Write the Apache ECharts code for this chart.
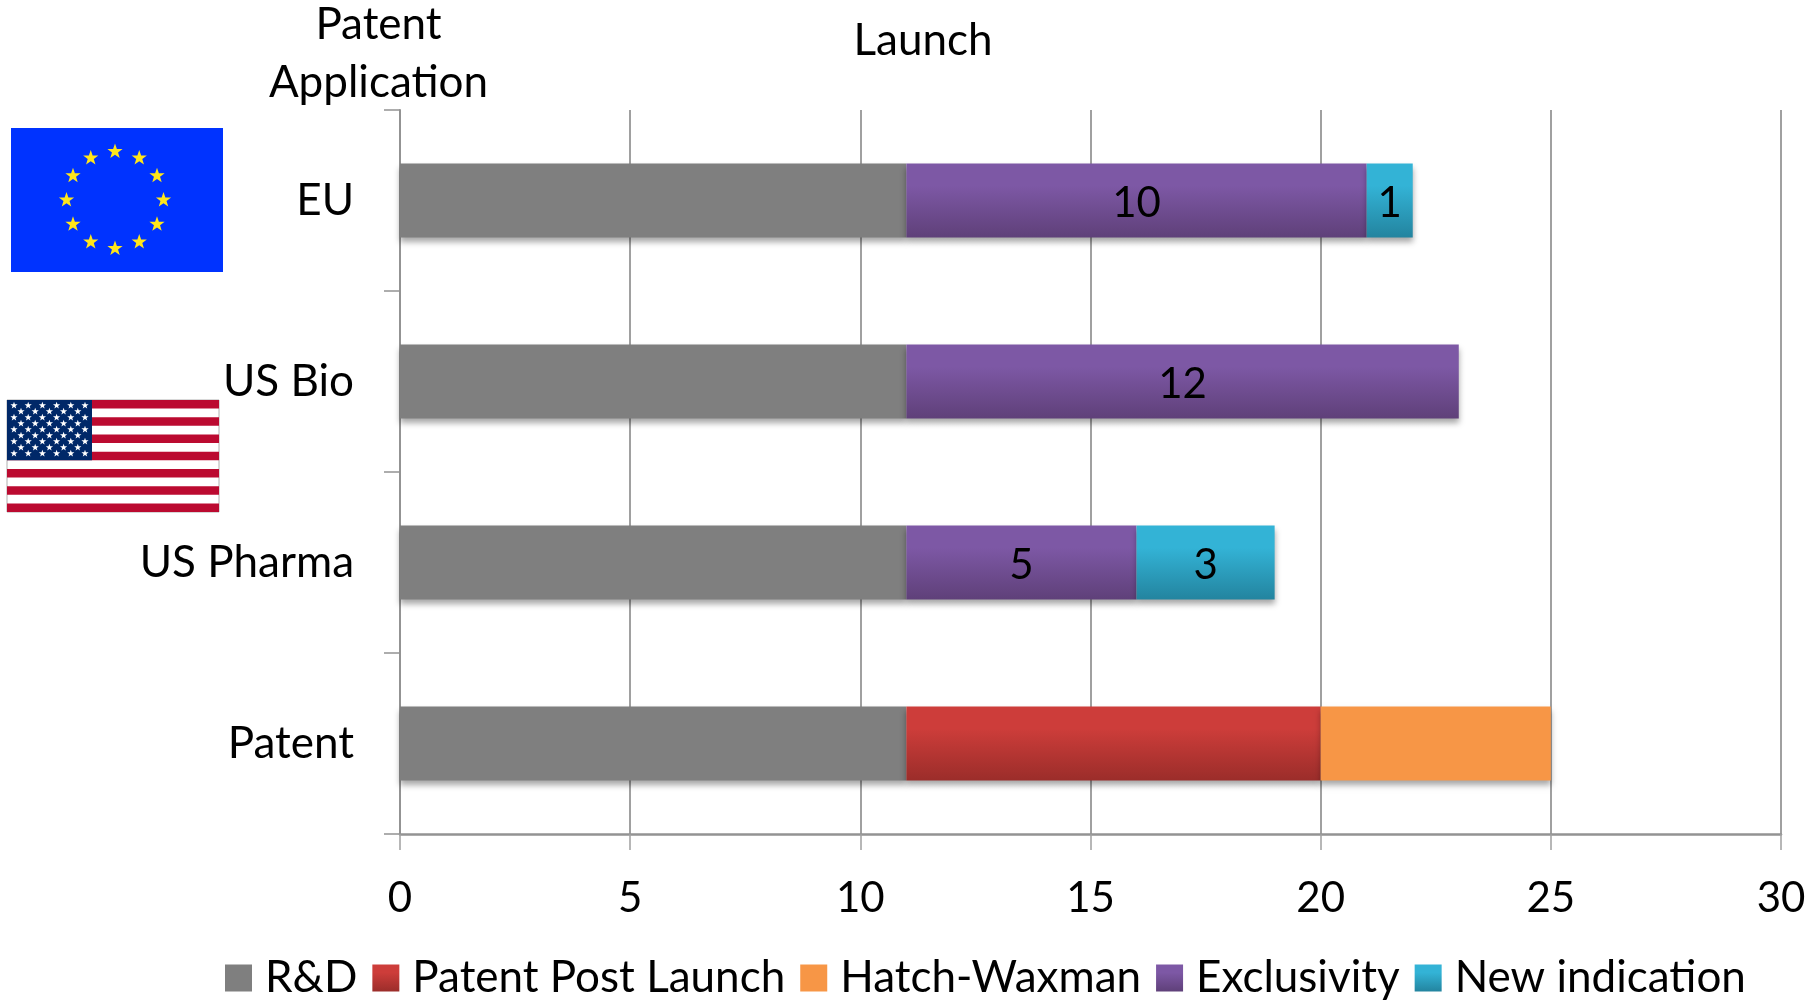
<!DOCTYPE html>
<html><head><meta charset="utf-8">
<style>html,body{margin:0;padding:0;background:#fff}#c{width:1812px;height:1000px}</style>
<script src="https://cdn.jsdelivr.net/npm/echarts@6/dist/echarts.min.js"></script>
</head><body><div id="c"></div>
<script>
const categories = ['Patent', 'US Pharma', 'US Bio', 'EU'];
const seriesNames = ['R&D', 'Patent Post Launch', 'Hatch-Waxman', 'Exclusivity', 'New indication'];
const rd = [11, 11, 11, 11];
const patentPost = [9, null, null, null];
const hatchWaxman = [5, null, null, null];
const exclusivity = [null, 5, 12, 10];
const newIndication = [null, 3, null, 1];
const xTicks = [0, 5, 10, 15, 20, 25, 30];

const FONT = 'Lato';
const grad = (a, b) => new echarts.graphic.LinearGradient(0, 0, 0, 1, [
  {offset: 0, color: a}, {offset: .3, color: a}, {offset: 1, color: b}]);
const seriesDefs = [
  [rd, '#7f7f7f', false],
  [patentPost, grad('#cd3d3a', '#9b2d2a'), false],
  [hatchWaxman, '#f79646', false],
  [exclusivity, grad('#7d58a5', '#5f4079'), true],
  [newIndication, grad('#33b3d6', '#23849f'), true]
];
function star(cx, cy, r, fill) {
  const pts = [];
  for (let i = 0; i < 10; i++) {
    const a = -Math.PI / 2 + i * Math.PI / 5, q = i % 2 ? r * .4 : r;
    pts.push([cx + q * Math.cos(a), cy + q * Math.sin(a)]);
  }
  return {type: 'polygon', shape: {points: pts}, style: {fill}, silent: true};
}
const rect = (x, y, width, height, fill) => ({type: 'rect', shape: {x, y, width, height}, style: {fill}, silent: true});
const flagParts = [rect(11, 128, 212, 144, '#0033ff')];
for (let i = 0; i < 12; i++) {
  const a = i * Math.PI / 6;
  flagParts.push(star(115 + 48.5 * Math.sin(a), 200 - 48.5 * Math.cos(a), 8, '#ffe61a'));
}
const usX = 7, usY = 400, usW = 212, usH = 112, sh = usH / 13;
flagParts.push({type: 'rect', shape: {x: usX, y: usY, width: usW, height: usH}, style: {fill: '#ffffff', stroke: '#b0b0b0', lineWidth: 1}, silent: true});
for (let i = 0; i < 13; i += 2) flagParts.push(rect(usX, usY + i * sh, usW, sh, '#bb0a30'));
flagParts.push(rect(usX, usY, 85, sh * 7, '#002868'));
for (let r = 0; r < 9; r++) {
  const n = r % 2 ? 5 : 6;
  for (let c = 0; c < n; c++) {
    flagParts.push(star(usX + 7 + (r % 2 ? 7 : 0) + c * 14.2, usY + 5.5 + r * 6, 3.8, '#ffffff'));
  }
}
const chart = echarts.init(document.getElementById('c'));
chart.setOption({
  animation: false,
  backgroundColor: '#fff',
  textStyle: {fontFamily: FONT},
  title: [
    {text: 'Patent\nApplication', left: 373.5, top: -9, textAlign: 'center',
     textStyle: {fontFamily: FONT, fontSize: 44, fontWeight: 'normal', color: '#000', lineHeight: 58}},
    {text: 'Launch', left: 918, top: 7, textAlign: 'center',
     textStyle: {fontFamily: FONT, fontSize: 44, fontWeight: 'normal', color: '#000', lineHeight: 58}}
  ],
  grid: {left: 400, right: 31, top: 110, bottom: 166},
  xAxis: {
    type: 'value', min: 0, max: 30, interval: 5,
    axisLine: {show: true, lineStyle: {color: '#939393', width: 2.5}},
    axisTick: {show: true, length: 16, lineStyle: {color: '#a0a0a0', width: 1.5}},
    splitLine: {show: true, lineStyle: {color: '#a0a0a0', width: 2}},
    axisLabel: {color: '#000', fontFamily: FONT, fontSize: 42, margin: 43,
      formatter: v => xTicks.includes(v) ? String(v) : ''}
  },
  yAxis: {
    type: 'category', data: categories,
    axisLine: {show: true, lineStyle: {color: '#939393', width: 2}},
    axisTick: {show: true, length: 16, lineStyle: {color: '#939393', width: 1.5}},
    axisLabel: {color: '#000', fontFamily: FONT, fontSize: 44, margin: 46}
  },
  legend: {
    left: 220, top: 951, icon: 'rect', itemWidth: 27, itemHeight: 27, itemGap: 15,
    data: seriesNames,
    itemStyle: {shadowBlur: 0, shadowOffsetY: 0, shadowColor: 'transparent'},
    textStyle: {color: '#000', fontFamily: FONT, fontSize: 44, padding: [0, 0, 0, 8]}
  },
  series: seriesDefs.map(([data, color, showLabel], i) => ({
    name: seriesNames[i], type: 'bar', stack: 'total', data, barWidth: 74,
    itemStyle: {color, shadowColor: 'rgba(0,0,0,0.35)', shadowBlur: 6, shadowOffsetY: 4},
    label: {show: showLabel, position: 'inside', color: '#000', fontFamily: FONT, fontSize: 42, offset: [0, 3]}
  })),
  graphic: flagParts
});
</script></body></html>
